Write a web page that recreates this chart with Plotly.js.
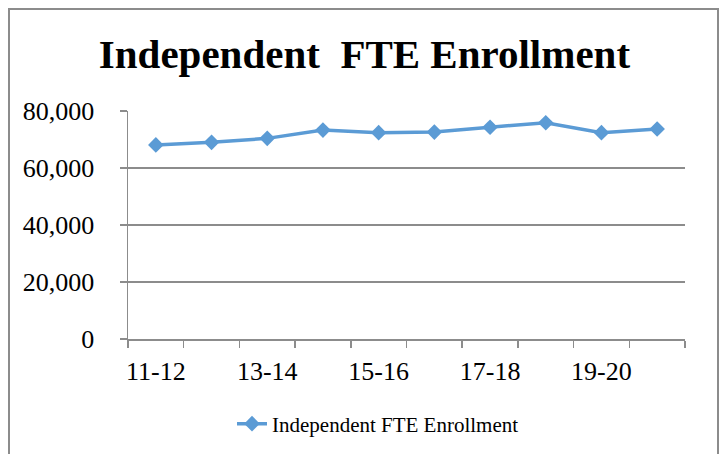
<!DOCTYPE html>
<html>
<head>
<meta charset="utf-8">
<title>Independent FTE Enrollment</title>
<script src="https://cdn.plot.ly/plotly-3.0.1.min.js"></script>
<style>
  html, body { margin: 0; padding: 0; background: #fff; overflow: hidden; }
  #chart { position: absolute; left: 0; top: 0; width: 721px; height: 454px; }
  #frame { position: absolute; left: 8px; top: 8px; width: 707px; height: 470px;
           border: 2px solid #8c8c8c; pointer-events: none; }
</style>
</head>
<body>
<div id="chart"></div>
<div id="frame"></div>
<script>
// school years (x categories) and FTE enrollment
const years = ['11-12', '12-13', '13-14', '14-15', '15-16', '16-17', '17-18', '18-19', '19-20', '20-21'];
const enrollment = [68100, 69000, 70400, 73300, 72400, 72600, 74300, 75900, 72400, 73700];
// only every other year is labelled on the axis
const yearLabels = years.map((y, i) => i % 2 === 0 ? y : '');
const yTicks = [0, 20000, 40000, 60000, 80000];

const serif = 'Liberation Serif';
const blue = '#5b9bd5';
const gray = '#8c8c8c';

const data = [{
  x: years,
  y: enrollment,
  type: 'scatter',
  mode: 'lines+markers',
  name: 'Independent FTE Enrollment',
  line: { color: blue, width: 3.5 },
  marker: { symbol: 'diamond', size: 12, color: blue }
}];

const layout = {
  width: 721,
  height: 454,
  margin: { l: 128, r: 36, t: 111, b: 115 },
  paper_bgcolor: '#fff',
  plot_bgcolor: '#fff',
  font: { family: serif, color: '#000' },
  title: {
    text: '<b>Independent  FTE Enrollment</b>',
    font: { family: serif, size: 41, color: '#000' },
    xref: 'container', x: 0.5055, xanchor: 'center',
    yref: 'container', y: 1 - 54 / 454, yanchor: 'middle'
  },
  xaxis: {
    type: 'category',
    range: [-0.5, 9.5],
    tickvals: years,
    ticktext: yearLabels,
    tickangle: 0,
    tickson: 'boundaries',
    ticks: 'outside',
    ticklen: 7,
    tickcolor: gray,
    tickwidth: 1.5,
    showline: true,
    linecolor: gray,
    linewidth: 1.5,
    showgrid: false,
    zeroline: false,
    tickfont: { family: serif, size: 26, color: '#000' },
    ticklabelstandoff: 8
  },
  yaxis: {
    range: [0, 80000],
    tickvals: yTicks,
    tickformat: ',d',
    ticks: 'outside',
    ticklen: 7,
    tickcolor: gray,
    tickwidth: 1.5,
    showline: true,
    linecolor: gray,
    linewidth: 1.5,
    showgrid: true,
    gridcolor: gray,
    gridwidth: 1.5,
    zeroline: false,
    tickfont: { family: serif, size: 26, color: '#000' },
    ticklabelstandoff: 20
  },
  showlegend: true,
  legend: {
    orientation: 'h',
    xref: 'container', x: 232 / 721, xanchor: 'left',
    yref: 'container', y: 1 - 424 / 454, yanchor: 'middle',
    font: { family: serif, size: 21, color: '#000' },
    bgcolor: 'rgba(0,0,0,0)'
  }
};

Plotly.newPlot('chart', data, layout, { displayModeBar: false, staticPlot: true });
</script>
</body>
</html>
